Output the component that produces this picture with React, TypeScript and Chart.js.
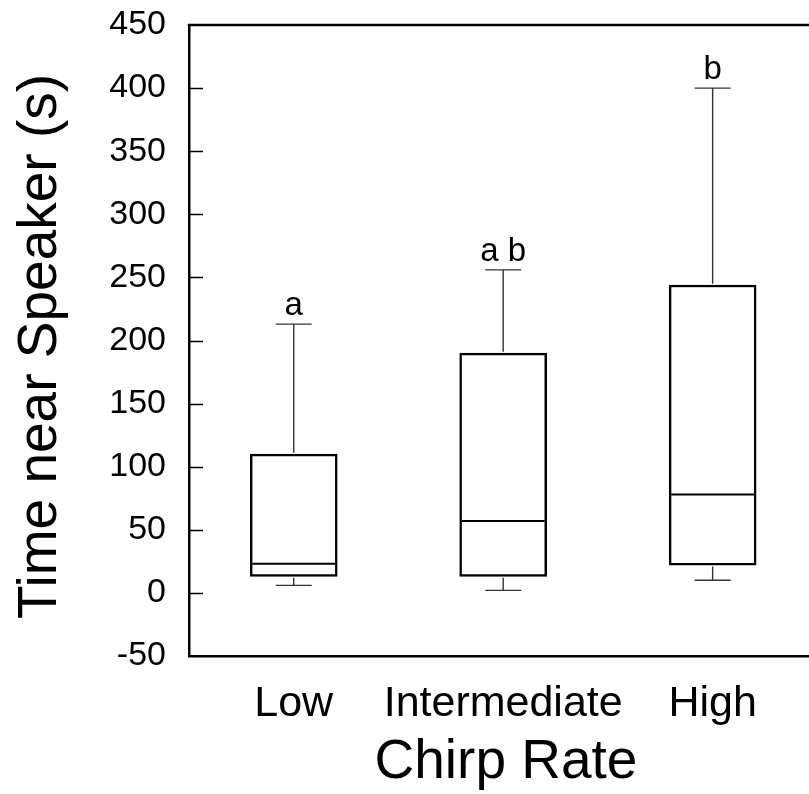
import { useEffect, useRef } from 'react';
import { Chart, registerables } from 'chart.js';

Chart.register(...registerables);

const categories = ['Low', 'Intermediate', 'High'];
const whiskerLow = [6, 2, 10];
const q1 = [13, 13, 22];
const medians = [23, 57, 78];
const q3 = [110, 190, 244];
const whiskerHigh = [213, 256, 400];
const letters = ['a', 'a b', 'b'];
const yTicks = [-50, 0, 50, 100, 150, 200, 250, 300, 350, 400, 450];
const yTitle = 'Time near Speaker (s)';
const xTitle = 'Chirp Rate';

const FONT = '"Liberation Sans", Arial, Helvetica, sans-serif';

const boxPlugin = {
  id: 'boxExtras',
  afterDatasetsDraw(chart: any) {
    const { ctx, chartArea, scales } = chart;
    const x = scales.x;
    const y = scales.y;
    ctx.save();
    // top frame line
    ctx.strokeStyle = '#000';
    ctx.lineWidth = 2.5;
    ctx.beginPath();
    ctx.moveTo(chartArea.left - 1.25, chartArea.top);
    ctx.lineTo(chartArea.right, chartArea.top);
    ctx.stroke();
    // inward ticks
    ctx.lineWidth = 1.5;
    yTicks.forEach((v) => {
      if (v <= y.min || v >= y.max) return;
      const py = Math.round(y.getPixelForValue(v)) + 0.5;
      ctx.beginPath();
      ctx.moveTo(chartArea.left, py);
      ctx.lineTo(chartArea.left + 14, py);
      ctx.stroke();
    });
    const meta = chart.getDatasetMeta(0);
    categories.forEach((_, i) => {
      const cx = x.getPixelForValue(i + 1);
      const bar: any = meta.data[i];
      const half = bar.width / 2;
      // whiskers
      ctx.strokeStyle = '#333';
      ctx.lineWidth = 1.4;
      const pHi = y.getPixelForValue(whiskerHigh[i]);
      const pQ3 = y.getPixelForValue(q3[i]);
      const pQ1 = y.getPixelForValue(q1[i]);
      const pLo = y.getPixelForValue(whiskerLow[i]);
      ctx.beginPath();
      ctx.moveTo(cx, pQ3 - 1.25);
      ctx.lineTo(cx, pHi);
      ctx.moveTo(cx - 18, pHi);
      ctx.lineTo(cx + 18, pHi);
      ctx.moveTo(cx, pQ1 + 1.25);
      ctx.lineTo(cx, pLo);
      ctx.moveTo(cx - 18, pLo);
      ctx.lineTo(cx + 18, pLo);
      ctx.stroke();
      // median
      ctx.strokeStyle = '#000';
      ctx.lineWidth = 2;
      const pMed = y.getPixelForValue(medians[i]);
      ctx.beginPath();
      ctx.moveTo(cx - half + 2, pMed);
      ctx.lineTo(cx + half - 2, pMed);
      ctx.stroke();
      // significance letters
      ctx.fillStyle = '#000';
      ctx.font = `33px ${FONT}`;
      ctx.textAlign = 'center';
      ctx.textBaseline = 'alphabetic';
      ctx.fillText(letters[i], cx, pHi - 9);
    });
    // axis titles
    ctx.fillStyle = '#000';
    ctx.font = `55px ${FONT}`;
    ctx.textAlign = 'center';
    ctx.textBaseline = 'alphabetic';
    ctx.save();
    ctx.translate(chartArea.left - 133, (chartArea.top + chartArea.bottom) / 2 + 6);
    ctx.rotate(-Math.PI / 2);
    ctx.fillText(yTitle, 0, 0);
    ctx.restore();
    ctx.font = `55px ${FONT}`;
    ctx.fillText(xTitle, (chartArea.left + chartArea.right) / 2 + 7, chartArea.bottom + 122);
    ctx.restore();
  },
};

export default function App() {
  const ref = useRef<HTMLCanvasElement | null>(null);
  useEffect(() => {
    if (!ref.current) return;
    const chart = new Chart(ref.current, {
      type: 'bar',
      data: {
        datasets: [
          {
            data: categories.map((_, i) => ({ x: i + 1, y: [q1[i], q3[i]] })) as any,
            backgroundColor: '#ffffff',
            borderColor: '#000000',
            borderWidth: 2.5,
            borderSkipped: false,
            barThickness: 87,
          },
        ],
      },
      options: {
        animation: false,
        responsive: false,
        devicePixelRatio: 1,
        layout: { padding: { top: 25, right: 0, left: 0, bottom: 0 } },
        plugins: { legend: { display: false }, tooltip: { enabled: false } },
        scales: {
          x: {
            type: 'linear',
            offset: false,
            min: 0.5,
            max: 3.46,
            grid: { display: false, drawTicks: false, offset: false },
            border: { display: true, color: '#000', width: 2.5 },
            afterBuildTicks: (scale: any) => {
              scale.ticks = categories.map((_, i) => ({ value: i + 1 }));
            },
            afterFit: (scale: any) => {
              scale.height = 138;
            },
            ticks: {
              autoSkip: false,
              maxRotation: 0,
              padding: 22,
              color: '#000',
              font: { family: FONT, size: 43 },
              callback: (v: any) => categories[Math.round(Number(v)) - 1] ?? '',
            },
          },
          y: {
            min: -50,
            max: 450,
            grid: { display: false, drawTicks: false },
            border: { display: true, color: '#000', width: 2.5 },
            afterFit: (scale: any) => {
              scale.width = 189;
              scale.paddingTop = 0;
              scale.paddingBottom = 0;
            },
            afterBuildTicks: (scale: any) => {
              scale.ticks = yTicks.map((v) => ({ value: v }));
            },
            ticks: {
              padding: 23,
              color: '#000',
              font: { family: FONT, size: 34, lineHeight: 0.5 },
            },
          },
        },
      },
      plugins: [boxPlugin],
    });
    return () => chart.destroy();
  }, []);
  return (
    <div style={{ position: 'absolute', left: 0, top: 0, width: 809, height: 794 }}>
      <canvas ref={ref} width={809} height={794} />
    </div>
  );
}
